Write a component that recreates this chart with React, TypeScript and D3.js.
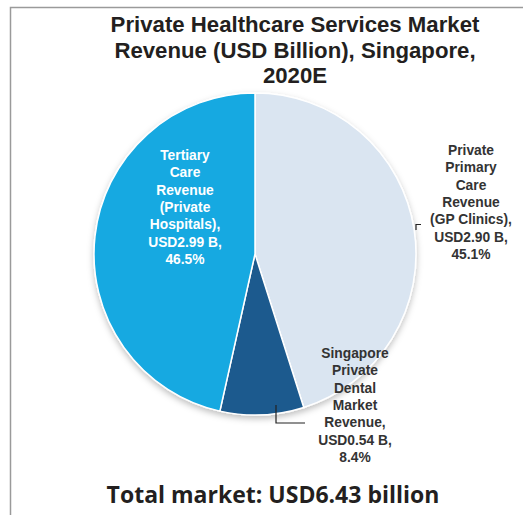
import React from "react";
import * as d3 from "d3";

const titleLines = ["Private Healthcare Services Market", "Revenue (USD Billion), Singapore,", "2020E"];
const categories = ["Private Primary Care Revenue (GP Clinics)", "Singapore Private Dental Market Revenue", "Tertiary Care Revenue (Private Hospitals)"];
const values = [2.90, 0.54, 2.99];
const labelLines = [
  ["Private", "Primary", "Care", "Revenue", "(GP Clinics),", "USD2.90 B,", "45.1%"],
  ["Singapore", "Private", "Dental", "Market", "Revenue,", "USD0.54 B,", "8.4%"],
  ["Tertiary", "Care", "Revenue", "(Private", "Hospitals),", "USD2.99 B,", "46.5%"],
];
const colors = ["#dae5f1", "#1d5a8e", "#16a9e1"];
const totalText = "Total market: USD6.43 billion";

const W = 523, H = 515;
const cx = 255, cy = 254, R = 161;
const labelPos = [
  { x: 471, y: 155, fill: "#333333" },
  { x: 355, y: 358, fill: "#333333" },
  { x: 185, y: 160, fill: "#ffffff" },
];

export default function App() {
  const pie = d3.pie<number>().sort(null).value((d) => d);
  const arcs = pie(values);
  const arc = d3.arc<d3.PieArcDatum<number>>().innerRadius(0).outerRadius(R);
  const lineH = 17.3;
  return (
    <svg width={W} height={H} style={{ position: "absolute", left: 0, top: 0, background: "#fff" }}>
      <defs>
        <filter id="sh" x="-20%" y="-20%" width="140%" height="140%">
          <feDropShadow dx="0" dy="3" stdDeviation="3" floodColor="#000" floodOpacity="0.25" />
        </filter>
      </defs>
      <path d={`M10.5,${H} L10.5,7.5 L${W},7.5`} fill="none" stroke="#9a9a9a" strokeWidth={1.5} />
      <g fontFamily="'Liberation Sans', Arial, sans-serif" fontWeight="bold" fontSize={22.2} fill="#231f20" textAnchor="middle">
        {titleLines.map((t, i) => (
          <text key={i} x={295} y={32 + i * 25.5}>{t}</text>
        ))}
      </g>
      <g transform={`translate(${cx},${cy})`}>
        <g filter="url(#sh)">
          {arcs.map((a, i) => (
            <path key={categories[i]} d={arc(a) || ""} fill={colors[i]} stroke="#fff" strokeWidth={1.5} />
          ))}
        </g>
      </g>
      <path d="M416,230 L416,224.5 L421,224.5" fill="none" stroke="#222" strokeWidth={1.2} />
      <path d="M276,405 L276,423 L305,423" fill="none" stroke="#222" strokeWidth={1.2} />
      <g fontFamily="'Liberation Sans', Arial, sans-serif" fontWeight="bold" fontSize={13.8} textAnchor="middle">
        {labelLines.map((lines, i) => (
          <text key={i} fill={labelPos[i].fill}>
            {lines.map((l, j) => (
              <tspan key={j} x={labelPos[i].x} y={labelPos[i].y + j * lineH}>{l}</tspan>
            ))}
          </text>
        ))}
      </g>
      <text x={273} y={503} textAnchor="middle" fontFamily="'Open Sans', sans-serif" fontWeight="bold" fontSize={23} fill="#231f20">
        {totalText}
      </text>
    </svg>
  );
}
